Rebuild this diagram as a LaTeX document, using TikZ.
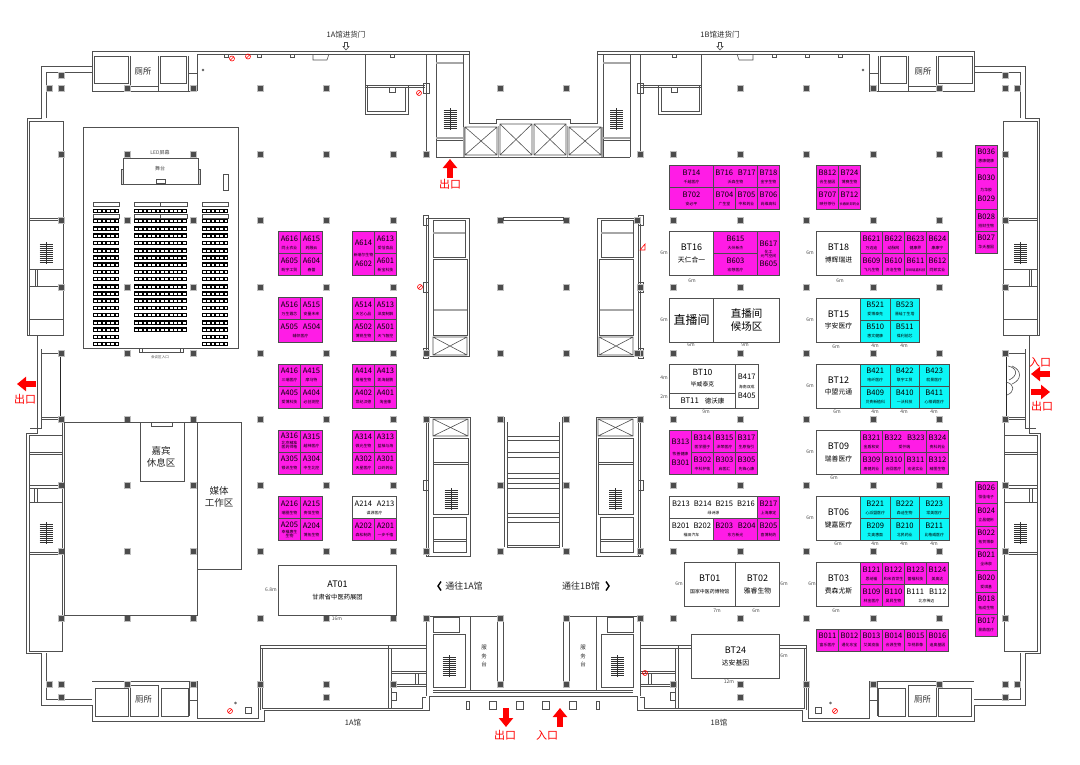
\documentclass[tikz,border=0pt]{standalone}
\usepackage{fontspec}
\usepackage{xcolor}
\usetikzlibrary{arrows.meta}
\setmainfont{Noto Sans CJK SC}
\definecolor{boothpink}{HTML}{FF1CE6}
\definecolor{boothcyan}{HTML}{0CF6F6}
\definecolor{walldark}{HTML}{505050}
\newcommand{\codefs}{\fontsize{7.6}{8}\selectfont}
\newcommand{\subfs}{\fontsize{3.9}{5}\selectfont}
\newcommand{\tinyfs}{\fontsize{3.3}{5}\selectfont}
\newcommand{\bt}[2]{{\codefs #1}\\{\subfs #2}}
\newcommand{\twosub}[2]{\raisebox{-2pt}{\shortstack[c]{#1\\[-2.6pt]#2}}}
\newcommand{\booth}[7]{\node[#1, minimum width={#5-#3}, minimum height={#6-#4}] (#2) at ({(#3+#5)/2},{(#4+#6)/2}) {#7};}
\newcommand{\stairicon}[2]{
    \draw[stairline] (#1,#2-11)--(#1,#2+11);
    \foreach \sy in {-9,-7,...,9} \draw[stairline] (#1-6.5,#2+\sy)--(#1+6.5,#2+\sy);
}
\newcommand{\nosign}[2]{
    \draw[red,line width=.6pt] (#1,#2) circle (2.5) (#1-1.8,#2+1.8)--(#1+1.8,#2-1.8);
}
\newcommand{\xbox}[4]{
    \draw[wall] (#1,#2) rectangle (#3,#4) (#1,#2)--(#3,#4) (#1,#4)--(#3,#2);
}
\newcommand{\pillarrow}[2]{
    \foreach \x in {#2} \fill[pillar] (\x-3,#1-3) rectangle (\x+3,#1+3);
}
\newcommand{\hollowdown}[1]{
    \draw[wall,fill=white] (#1-1.5,42.5)--(#1+1.5,42.5)--(#1+1.5,46.5)--(#1+3,46.5)--(#1,50)--(#1-3,46.5)--(#1-1.5,46.5)--cycle;
}
% one half of the hall shell, used twice
\newcommand{\halfplan}{
    \draw[wall] (533,119.5)--(496,119.5)--(496,123)--(469,123)--(469,51)--(92,51)--(92,66)--(41,66)--(41,118)--(27,118)--(27,335)--(37,335)--(37,433)--(26,433)--(26,653)--(41,653)--(41,705)--(92,705)--(92,721)--(264,721)--(264,710)--(429,710)--(429,696)--(533,696);
    \draw[wall] (197,91)--(197,54)--(469,54) (46,118)--(46,72)--(92,72) (41,349)--(41,428)--(30,428) (46,653)--(46,699)--(92,699);
    % toilets
    \draw[wall] (92,66)--(92,91)--(197,91);
    \draw[wall] (94,56) rectangle (128,83) (130,56)--(130,91) (158,56)--(158,91) (160,56) rectangle (186,83) (130,86)--(158,86) (188,56)--(188,91) (188,73)--(197,73);
    \draw[wall] (92,681)--(197,681)--(197,718)--(258,718)--(258,684) (95,688) rectangle (128,716) (130,685) rectangle (158,716) (161,688) rectangle (188,716) (189,681)--(189,716) (189,700)--(197,700);
    % side stair blocks
    \draw[wall] (29,121) rectangle (63,335) (29,218)--(63,218) (29,220)--(63,220) (29,269)--(63,269) (29,286)--(63,286) (29,319)--(63,319) (35,270)--(35,286) (37,270)--(37,286);
    \stairicon{46}{253}
    \draw[wall] (29,435) rectangle (62,651) (29,452)--(62,452) (29,454)--(62,454) (29,485)--(62,485) (29,488)--(62,488) (29,502)--(62,502) (29,552)--(62,552) (29,554)--(62,554) (34,488)--(34,502) (37,488)--(37,502);
    \stairicon{46}{533}
    \draw[wall,line width=.8pt,black!85] (60,353)--(60,419);
    \draw[wall] (41,353)--(60,353) (41,417)--(60,417) (41,419)--(60,419) (62,419)--(62,435);
    % top core
    \draw[wall] (426,54)--(426,154) (436,54)--(436,157) (463,54)--(463,157) (436,157)--(533,157);
    \draw[thickwall] (436,63)--(463,63) (436,138)--(463,138) (464,127)--(464,157) (498.5,126)--(498.5,157);
    \draw[wall] (436,140)--(463,140);
    \stairicon{450}{119}
    \xbox{465}{127}{497}{155}
    \xbox{500}{124}{532}{155}
    % side rooms
    \draw[wall] (365,54)--(365,114)--(408,114)--(408,85) (367,85)--(367,111)--(405,111)--(405,87) (365,85)--(425,85) (365,87)--(425,87) (389,87)--(389,92)--(395,92)--(395,87);
    \draw[wall] (313,54)--(313,60)--(327,60)--(329,54);
    \foreach \nx in {226,259,292,392} \draw[wall] (\nx-2,54) rectangle (\nx+2,57);
    % upper escalator core
    \draw[wall] (426,218)--(469,218)--(469,356)--(426,356)--(426,218) (428,218)--(428,356);
    \draw[wall] (433,220) rectangle (465,257);
    \draw[thickwall] (433,233)--(465,233) (433,310)--(467,310);
    \draw[wall] (433,259) rectangle (467,335);
    \xbox{433}{337}{467}{355}
    % lower escalator core
    \draw[wall] (426,417)--(470,417)--(470,556)--(426,556)--(426,417) (428,417)--(428,556);
    \xbox{433}{419}{468}{436}
    \draw[wall] (433,438) rectangle (468,514) (433,462)--(468,462) (433,464)--(468,464);
    \stairicon{451}{499}
    \draw[wall] (433,517) rectangle (466,552) (433,539)--(466,539) (433,541)--(466,541);
    % bottom service core
    \draw[wall] (426,616)--(501,616) (426,616)--(426,696) (470,616)--(470,690) (497,618)--(497,684) (503,616)--(503,684) (433,617) rectangle (459,632) (433,634) rectangle (465,687) (433,690)--(533,690) (433,692)--(533,692);
    \stairicon{449}{666}
    % bottom room
    \draw[wall] (260,645)--(426,645) (260,648)--(426,648) (260,645)--(260,710) (262,648)--(262,708)--(422,708)--(422,697)--(426,697) (388,645)--(388,708) (391,648)--(391,708) (391,671)--(426,671) (391,673)--(426,673) (391,684)--(426,684) (391,686)--(426,686) (415,673)--(415,684) (418,673)--(418,684) (391,692) rectangle (396,700);
    % wall stubs and small boxes
    \foreach \hy in {220,287,353,485} \draw[wall] (423,\hy-5) rectangle (428,\hy+5);
    \draw[wall] (423,83) rectangle (429,93);
    \draw[wall] (245,707) rectangle (251,713);
    \draw[wall] (235.5,703) circle (1);
    \draw[wall] (203,70) circle (1);
    \foreach \sqx/\sqw in {468/1.5,493/3.5,520/3.5} \draw[wall] (\sqx-\sqw,701) rectangle (\sqx+\sqw,709);
    % pillars
    \pillarrow{75}{61}
    \pillarrow{88}{49,61,127,193,260,326,500}
    \pillarrow{154}{61,127,193,260,326,393,426}
    \pillarrow{220}{61,127,193,260,326,393,500}
    \pillarrow{287}{61,127,193,260,326,393,500}
    \pillarrow{353}{61,127,193,260,326,393,426,500}
    \pillarrow{419}{61,127,193,260,326,393,426,500}
    \pillarrow{485}{61,127,193,260,326,393,500}
    \pillarrow{551}{61,127,193,260,326,393,426,500}
    \pillarrow{618}{61,127,193,260,326,393,426,500}
    \pillarrow{684}{49,61,127,193,260,326,393,500}
    \pillarrow{697}{61,326}
}
\tikzset{
    wall/.style={draw=walldark,line width=.6pt},
    thickwall/.style={draw=black!35,line width=1.6pt},
    stairline/.style={draw=black!80,line width=.45pt},
    pillar/.style={fill=black!70,draw=black!25,line width=.4pt},
    boothm/.style={draw=black!70,fill=boothpink,line width=.7pt,inner sep=0pt,outer sep=0pt,align=center,font=\codefs,text=black},
    boothc/.style={boothm,fill=boothcyan},
    boothw/.style={boothm,fill=white,draw=walldark},
    placard/.style={align=center,text=black!85,inner sep=0pt},
    dimlabel/.style={font=\fontsize{5}{6}\selectfont,text=black!70,inner sep=0pt},
    exitlabel/.style={red,font=\fontsize{11}{12}\selectfont,inner sep=0pt},
    exitarrow/.style={red,line width=6pt,-{Triangle[length=9pt,width=14pt]}},
    seatrow/.style={fill=black},
}
\begin{document}
\begin{tikzpicture}[x=1pt,y=-1pt]
    \useasboundingbox (0,0) rectangle (1080,764);
    \halfplan
    \begin{scope}[shift={(1066,0)},xscale=-1]
        \halfplan
    \end{scope}
    \pillarrow{220}{637}
    \pillarrow{287}{640}
    \pillarrow{353}{637}

    % meeting area
    \draw[wall] (83,127) rectangle (238,348);
    \draw[wall] (139,348) rectangle (183,352) (142,348)--(142,352) (180,348)--(180,352);
    \draw[wall,line width=.8pt] (123,184)--(123,158)--(198,158)--(198,184)--(123,184);
    \draw[wall,fill=black!15] (121,169) rectangle (123,184) (198,169) rectangle (200,184);
    \draw[wall] (156,179.5) rectangle (165,183.5) (223,174) rectangle (228,190);
    \foreach \sy in {202,214} {
        \draw[wall] (93,\sy) rectangle (119,\sy+4) (134,\sy) rectangle (187,\sy+4) (160,\sy)--(160,\sy+4) (202,\sy) rectangle (228,\sy+4);
    }
    \foreach \sy in {211,221,228.5,235.5,243,250.5,257.5,264.5,272,279,286.5,293.5,300.5,308,315,322.5,329.5,337,344} {
        \foreach \sx/\sw in {93/26,202/26} {
            \fill[seatrow] (\sx,\sy-2.4) rectangle (\sx+\sw,\sy+2.4);
            \draw[white,line width=2pt,dash pattern=on 2.8pt off 1.55pt] (\sx+.9,\sy) -- (\sx+\sw,\sy);
        }
    }
    \foreach \sy in {211,221,228.5,235.5,243,250.5,257.5,264.5,272,279,286.5,293.5,300.5,308,315,322.5,329.5} {
        \fill[seatrow] (134,\sy-2.4) rectangle (187,\sy+2.4);
        \draw[white,line width=2pt,dash pattern=on 2.8pt off 1.55pt] (134.9,\sy) -- (187,\sy);
    }
    \pillarrow{220}{127,193}
    \pillarrow{287}{127,193}
    \node[dimlabel,font=\fontsize{5}{6}\selectfont] (ledscreen) at (160,153) {LED屏幕};
    \node[dimlabel,font=\fontsize{5}{6}\selectfont] (stage) at (160,169) {舞台};
    \node[dimlabel,font=\fontsize{3.6}{5}\selectfont] (hallentry) at (160,357) {会议区入口};

    % guest and media rooms
    \draw[wall] (64,422) rectangle (197,615);
    \draw[wall,fill=white] (197,422) rectangle (241,569);
    \draw[wall,fill=white] (140,422) rectangle (184,481);
    \draw[wall] (151,422) rectangle (172,426);
    \pillarrow{485}{127,193}
    \pillarrow{551}{127,193}
    \node[placard,font=\fontsize{9.5}{11.5}\selectfont] (guestroom) at (161,457) {嘉宾\\休息区};
    \node[placard,font=\fontsize{9.5}{11.5}\selectfont] (mediaroom) at (219,497) {媒体\\工作区};

    % central stair
    \draw[wall] (504,417)--(504,547) (507,422)--(507,547)--(533,547) (562,417)--(562,547) (559,422)--(559,547)--(533,547) (507,547)--(559,547);
    \foreach \sy in {436,440,452,457,473,478,483,488,513,517,522,545} \draw[wall] (507,\sy)--(559,\sy);
    \draw[wall] (503,217) rectangle (563,220);

    % left side booths
    \foreach \bx/\by/\bname/\bsub in {
        278.5/231.5/A616/同土农业, 300.5/231.5/A615/药融云, 278.5/253.5/A605/盼宇工贸, 300.5/253.5/A604/春蕾,
        374.5/231.5/A613/爱恬食品, 374.5/253.5/A601/新宝科技,
        278.5/297.5/A516/万生霞芯, 300.5/297.5/A515/安量未来,
        352.5/297.5/A514/天艺心品, 374.5/297.5/A513/深度制解, 352.5/319.7/A502/博锐生物, 374.5/319.7/A501/天飞智控,
        278.5/364/A416/三瑞医疗, 300.5/364/A415/摩马特, 278.5/386/A405/爱博科技, 300.5/386/A404/必创测控,
        352.5/364/A414/栢楷生物, 374.5/364/A413/凯海韶鹏, 352.5/386/A402/世纪汉德, 374.5/386/A401/淘金橡,
        278.5/430/A316/{\twosub{北京精准}{医药师格}}, 300.5/430/A315/越神医疗, 278.5/452/A305/银讯生物, 300.5/452/A304/中生北控,
        352.5/430/A314/微光生物, 374.5/430/A313/蓝柚与海, 352.5/452/A302/天星医疗, 374.5/452/A301/以岭药业,
        278.5/496.5/A216/瑞圈生物, 300.5/496.5/A215/贵恒生物, 278.5/518.5/A205/{\twosub{幸福惠生}{生物}}, 300.5/518.5/A204/博拓生物,
        352.5/518.5/A202/森松制药, 374.5/518.5/A201/一步千禧
    } {
        \booth{boothm}{\bname}{\bx}{\by}{\bx+22}{\by+22}{\bt{\bname}{\bsub}}
    }
    \booth{boothm}{A614}{352.5}{231.5}{374.5}{275.5}{A614\\[2.6pt]{\subfs 新瑞尔生物}\\[2.6pt]A602}
    \booth{boothm}{A505}{278.5}{319.7}{322.5}{342}{\bt{A505\hspace{5pt}A504}{辅帜医疗}}
    \booth{boothw}{A214}{352.5}{496.5}{396.5}{518.5}{\bt{A214\hspace{5pt}A213}{谋源医疗}}
    \node[boothw,minimum width=118,minimum height=50,font=\fontsize{9}{12}\selectfont] (AT01) at (337.5,590) {AT01\\{\fontsize{6.3}{8}\selectfont 甘肃省中医药展团}};

    % right side booths, pink
    \foreach \bx/\by/\bname/\bsub in {
        757.5/165.5/B718/金宇生物, 713.5/187.5/B704/广生堂, 735.5/187.5/B705/中和药业, 757.5/187.5/B706/尚维高科,
        816.5/165.5/B812/合生基因, 838.5/165.5/B724/博赛生物, 816.5/187.5/B707/映芬茶行, 838.5/187.5/B712/{\tinyfs 长春新邦药业},
        860.5/231.5/B621/万迈迪, 882.5/231.5/B622/动脉网, 904.5/231.5/B623/健康界, 926.5/231.5/B624/康康宁,
        860.5/253.5/B609/飞凡生物, 882.5/253.5/B610/济沧生物, 904.5/253.5/B611/{\tinyfs 深圳瑞嘉科技}, 926.5/253.5/B612/同邦实业,
        691.5/430.5/B314/医学圈子, 713.5/430.5/B315/泽荣医疗, 735.5/430.5/B317/生原指引,
        691.5/452.5/B302/中科护佑, 713.5/452.5/B303/启医汇, 735.5/452.5/B305/先锋心康,
        860.5/430.5/B321/金盾和安, 926.5/430.5/B324/贵科药业,
        860.5/452.5/B309/唐健药业, 882.5/452.5/B310/合回医疗, 904.5/452.5/B311/宏逊实业, 926.5/452.5/B312/精图生物,
        757.5/496.5/B217/上海康定, 757.5/518.5/B205/喜博制药,
        860.5/562.5/B121/思纳福, 882.5/562.5/B122/和米百世生, 904.5/562.5/B123/蕾福科技, 926.5/562.5/B124/美奥达,
        860.5/584.5/B109/林金医疗, 882.5/584.5/B110/昊昇生物,
        816.5/629/B011/富乐医疗, 838.5/629/B012/通化东宝, 860.5/629/B013/艾美疫苗, 882.5/629/B014/合源生物, 904.5/629/B015/华视影像, 926.5/629/B016/迪奥基因
    } {
        \booth{boothm}{\bname}{\bx}{\by}{\bx+22}{\by+22}{\bt{\bname}{\bsub}}
    }
    \booth{boothm}{B714}{669.5}{165.5}{713.5}{187.5}{\bt{B714}{千越医疗}}
    \booth{boothm}{B716}{713.5}{165.5}{757.5}{187.5}{\bt{B716\hspace{5pt}B717}{沃森生物}}
    \booth{boothm}{B702}{669.5}{187.5}{713.5}{209.5}{\bt{B702}{安必平}}
    \booth{boothm}{B615}{713.5}{231.5}{757.5}{253.5}{\bt{B615}{大州新杰}}
    \booth{boothm}{B603}{713.5}{253.5}{757.5}{275.5}{\bt{B603}{宏想医疗}}
    \booth{boothm}{B617}{757.5}{231.5}{779.5}{275.5}{B617\\[1pt]{\subfs\twosub{化工}{元气空间}}\\[3pt]B605}
    \booth{boothm}{B313}{669.5}{430.5}{691.5}{474.5}{B313\\[2.6pt]{\subfs 牧善健康}\\[2.6pt]B301}
    \booth{boothm}{B322}{882.5}{430.5}{926.5}{452.5}{\bt{B322\hspace{5pt}B323}{爱仟瑞}}
    \booth{boothm}{B203}{713.5}{518.5}{757.5}{540.5}{\bt{B203\hspace{5pt}B204}{东方新光}}

    % right side booths, cyan
    \foreach \bx/\by/\bname/\bsub in {
        860.5/298/B521/爱博泰克, 890/298/B523/晋硅丁生塔, 860.5/320/B510/惠文健康, 890/320/B511/葆利前芯,
        860.5/364/B421/哈纤医疗, 890/364/B422/联宇工贸, 919.5/364/B423/就景医疗,
        860.5/386/B409/贝贵新植科, 890/386/B410/一沃科技, 919.5/386/B411/心相调医疗,
        860.5/496.5/B221/心派盟医疗, 890/496.5/B222/森迪生物, 919.5/496.5/B223/常美医疗,
        860.5/518.5/B209/艾奥惠面, 890/518.5/B210/北民药业, 919.5/518.5/B211/比格威医疗
    } {
        \booth{boothc}{\bname}{\bx}{\by}{\bx+29.5}{\by+22}{\bt{\bname}{\bsub}}
    }

    % far right column
    \foreach \by/\bh/\bname/\bsub in {
        145/22.5/B036/惠康健康, 209.5/22/B028/招财生物, 231.5/21.5/B027/华夭基因,
        481/22.5/B026/恒佳电子, 503.5/22.5/B024/立昌健彬, 526/22/B022/拓贺博泰, 548/22.5/B021/全纬泉,
        570.5/22/B020/爱琪基, 592.5/21.5/B018/拓成生物, 614/22/B017/景鼎医疗
    } {
        \booth{boothm}{\bname}{975}{\by}{997.5}{\by+\bh}{\bt{\bname}{\bsub}}
    }
    \booth{boothm}{B030}{975}{167.5}{997.5}{209.5}{B030\\[2.6pt]{\subfs 为华胶}\\[2.6pt]B029}

    % white stands
    \foreach \bx/\by/\bxe/\bye/\bname/\bsub in {
        669.5/231.5/713.5/275.5/BT16/天仁合一, 816.5/231.5/860.5/275.5/BT18/博辉瑞进,
        816.5/298/860.5/342/BT15/宇安医疗, 816.5/364/860.5/408/BT12/中盟元通,
        816.5/430.5/860.5/474.5/BT09/瑞善医疗, 816.5/496.5/860.5/540.5/BT06/键嘉医疗,
        735.5/562.5/779.5/606.5/BT02/雅睿生物, 816.5/562.5/860.5/606.5/BT03/费森尤斯,
        691.5/634.5/779.5/678.5/BT24/达安基因
    } {
        \node[boothw,minimum width=\bxe-\bx,minimum height=\bye-\by,font=\fontsize{9}{11.5}\selectfont] (\bname) at ({(\bx+\bxe)/2},{(\by+\bye)/2}) {\bname\\{\fontsize{6.8}{8}\selectfont \bsub}};
    }
    \node[boothw,minimum width=51.5,minimum height=44,font=\fontsize{9}{11.5}\selectfont] (BT01) at (709.75,584.5) {BT01\\{\fontsize{4.9}{8}\selectfont 国家中医药博物馆}};
    \node[boothw,minimum width=66,minimum height=29,font=\fontsize{8.5}{11}\selectfont] (BT10) at (702.5,378.5) {BT10\\{\fontsize{5.8}{8}\selectfont 毕威泰克}};
    \node[boothw,minimum width=66,minimum height=15,font=\fontsize{7.8}{9}\selectfont] (BT11) at (702.5,400.5) {BT11\hspace{6pt}{\fontsize{6.5}{8}\selectfont 德沃康}};
    \booth{boothw}{B417}{735.5}{364}{758}{408}{B417\\[1.5pt]{\subfs 海南双成}\\[1.5pt]B405}
    \node[boothw,minimum width=44,minimum height=44,font=\fontsize{12}{15}\selectfont] (liveroom) at (691.5,320) {直播间};
    \node[boothw,minimum width=66,minimum height=44,font=\fontsize{10.5}{13.5}\selectfont] (waitroom) at (746.5,320) {直播间\\候场区};
    \booth{boothw}{B213}{669.5}{496.5}{757.5}{518.5}{\bt{B213\hspace{4pt}B214\hspace{4pt}B215\hspace{4pt}B216}{绿诗源}}
    \booth{boothw}{B201}{669.5}{518.5}{713.5}{540.5}{\bt{B201\hspace{4pt}B202}{福田汽车}}
    \booth{boothw}{B111}{904.5}{584.5}{948.5}{606.5}{\bt{B111\hspace{5pt}B112}{北京稀迈}}

    % dimensions
    \foreach \dx/\dy/\dtxt [count=\di] in {
        664/253/6m, 692/281/6m, 810/253/6m, 840/281/6m, 664/320/6m, 691/345/6m, 745/345/9m,
        664/378/4m, 664/397/2m, 706/412/9m, 810/320/6m, 836/347/6m, 875/346/4m, 904/346/4m,
        810/386/6m, 837/412/6m, 875/412/4m, 904/412/4m, 934/412/4m, 810/452/6m, 834/478/6m,
        810/518/6m, 838/544/6m, 875/544/4m, 904/544/4m, 934/544/4m, 679/584/6m, 717/611/7m,
        756/611/6m, 784/584/6m, 812/584/6m, 836/611/6m, 784/656/6m, 729/682/12m, 271/590/6.8m, 337/619/16m
    } {
        \node[dimlabel] (dim\di) at (\dx,\dy) {\dtxt};
    }

    % fixed labels
    \foreach \lx/\ly/\ltxt [count=\li] in {143/71/厕所, 923/71/厕所, 143.5/699/厕所, 922.5/699/厕所} {
        \node[placard,font=\fontsize{8.3}{9}\selectfont] (toilet\li) at (\lx,\ly) {\ltxt};
    }
    \node[placard,font=\fontsize{5.5}{8.5}\selectfont] (servicea) at (484,656) {服\\务\\台};
    \node[placard,font=\fontsize{5.5}{8.5}\selectfont] (serviceb) at (583,656) {服\\务\\台};
    \node[placard,font=\fontsize{7.5}{9}\selectfont] (gatea) at (346,35) {1A馆进货门};
    \node[placard,font=\fontsize{7.5}{9}\selectfont] (gateb) at (720,35) {1B馆进货门};
    \hollowdown{346}
    \hollowdown{720}
    \node[placard,font=\fontsize{7.5}{9}\selectfont] (halla) at (353,722.5) {1A馆};
    \node[placard,font=\fontsize{7.5}{9}\selectfont] (hallb) at (719,722.5) {1B馆};
    \node[placard,font=\fontsize{9}{10}\selectfont] (towarda) at (464,586) {通往1A馆};
    \node[placard,font=\fontsize{9}{10}\selectfont] (towardb) at (581,586) {通往1B馆};
    \draw[black,line width=1.4pt] (441,581.5)--(438,586)--(441,590.5) (606,581.5)--(609,586)--(606,590.5);

    % exits and entrance
    \draw[exitarrow] (450,178)--(450,159);
    \draw[exitarrow] (36,384)--(17,384);
    \draw[exitarrow] (1050,374)--(1031,374);
    \draw[exitarrow] (1031,392)--(1050,392);
    \draw[exitarrow] (506,708)--(506,727);
    \draw[exitarrow] (560,727)--(560,708);
    \node[exitlabel] (exitn) at (450,184) {出口};
    \node[exitlabel] (exitw) at (25,399) {出口};
    \node[exitlabel] (entrye) at (1040,362) {入口};
    \node[exitlabel] (exite) at (1042,406) {出口};
    \node[exitlabel] (exits) at (505,735) {出口};
    \node[exitlabel] (entrys) at (547,735) {入口};

    % no-entry signs and door marks
    \nosign{232}{58.5}
    \nosign{248}{56.5}
    \nosign{419}{93}
    \nosign{420}{287}
    \nosign{230}{711}
    \nosign{645}{673}
    \nosign{835}{711}
    \draw[red,line width=.6pt] (640,250)--(645,244)--(645,250)--cycle;
    \draw[wall] (1008,366) .. controls (1018,368) and (1018,376) .. (1009,380) (1012,366) .. controls (1022,370) and (1022,380) .. (1012,384) (1006,382) .. controls (1015,384) and (1015,392) .. (1007,395);
\end{tikzpicture}
\end{document}
